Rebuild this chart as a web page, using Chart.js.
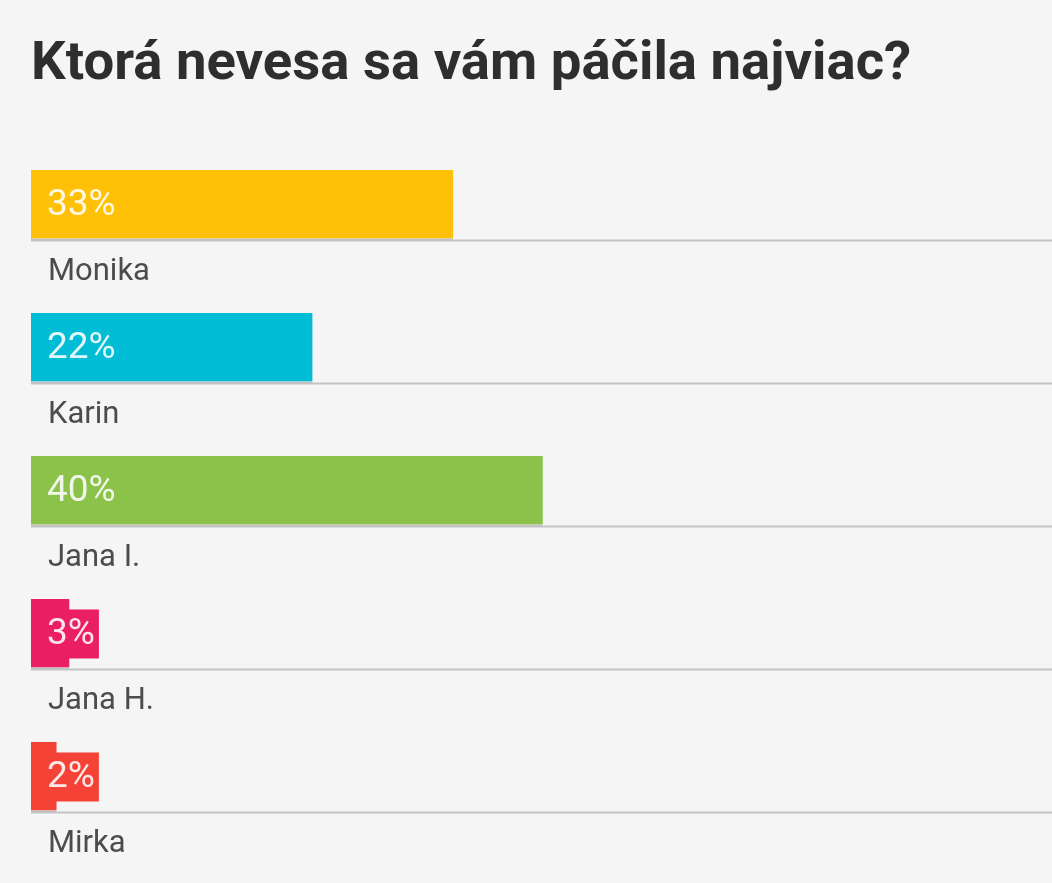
<!DOCTYPE html>
<html>
<head>
<meta charset="utf-8">
<script src="https://cdn.jsdelivr.net/npm/chart.js@4"></script>
<style>
  html, body { margin: 0; padding: 0; background: #f5f5f5; }
  #wrap { width: 1052px; height: 883px; position: relative; }
</style>
</head>
<body>
<div id="wrap"><canvas id="pollChart"></canvas></div>
<script>
var titleText = "Ktorá nevesa sa vám páčila najviac?";
var names = ["Monika", "Karin", "Jana I.", "Jana H.", "Mirka"];
var percents = [33, 22, 40, 3, 2];
var barColors = ["#FFC107", "#00BCD4", "#8BC34A", "#E91E63", "#F44336"];

// draws the gray rule under each bar, the % tag and the name below
var pollLabels = {
    id: "pollLabels",
    beforeDatasetsDraw: function (chart) {
        var ctx = chart.ctx;
        var area = chart.chartArea;
        var meta = chart.getDatasetMeta(0);
        ctx.save();
        ctx.strokeStyle = "#c4c4c4";
        ctx.lineWidth = 2;
        meta.data.forEach(function (bar) {
            var y = Math.round(bar.y + bar.height / 2) + 0.5;
            ctx.beginPath();
            ctx.moveTo(area.left, y);
            ctx.lineTo(area.right, y);
            ctx.stroke();
        });
        ctx.restore();
    },
    afterDatasetsDraw: function (chart) {
        var ctx = chart.ctx;
        var meta = chart.getDatasetMeta(0);
        ctx.save();
        meta.data.forEach(function (bar, i) {
            var left = Math.min(bar.x, bar.base);
            var txt = percents[i] + "%";
            var tx = left + 16;

            ctx.font = "37px Roboto";
            var w = ctx.measureText(txt).width;
            ctx.fillStyle = barColors[i];
            ctx.fillRect(tx - 6, bar.y - 24.5, w + 10, 49);

            ctx.fillStyle = "rgba(255,255,255,0.88)";
            ctx.textBaseline = "middle";
            ctx.textAlign = "left";
            ctx.fillText(txt, tx, bar.y + 1);

            ctx.font = "31px Roboto";
            ctx.fillStyle = "#4c4c4c";
            ctx.fillText(names[i], left + 17, bar.y + bar.height / 2 + 32);
        });
        ctx.restore();
    }
};

new Chart(document.getElementById("pollChart"), {
    type: "bar",
    data: {
        labels: names,
        datasets: [{
            data: percents,
            backgroundColor: barColors,
            borderColor: "rgba(0,0,0,0.12)",
            borderWidth: { top: 0, left: 0, right: 0, bottom: 2 },
            borderSkipped: false,
            barThickness: 70
        }]
    },
    options: {
        indexAxis: "y",
        responsive: true,
        maintainAspectRatio: false,
        animation: false,
        layout: { padding: { left: 31, right: 0, top: 0, bottom: 34.5 } },
        scales: {
            x: { display: false, min: 0, max: 79.8 },
            y: { display: false, offset: true }
        },
        plugins: {
            legend: { display: false },
            tooltip: { enabled: false },
            title: {
                display: true,
                text: titleText,
                align: "start",
                color: "#2e2e2e",
                font: { family: "Roboto", size: 54.5, weight: "bold", lineHeight: 1.2 },
                padding: { top: 33, bottom: 35 }
            }
        }
    },
    plugins: [pollLabels]
});
</script>
</body>
</html>
